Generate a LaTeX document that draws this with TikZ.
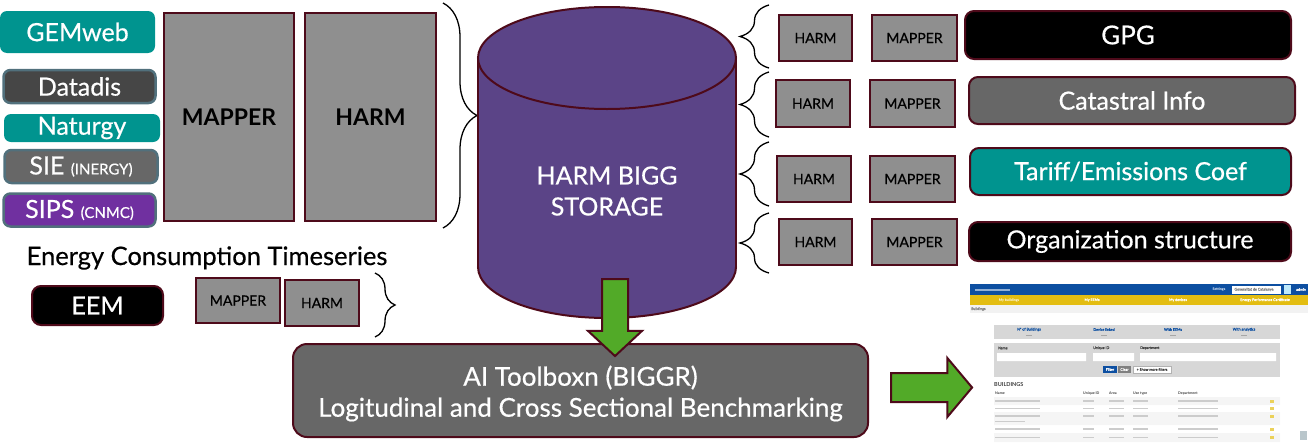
\documentclass[tikz,border=0pt]{standalone}
\usepackage{fontspec}
\setmainfont{Lato}[UprightFeatures={FakeBold=0.5}]
\usepackage{tikz}
\usetikzlibrary{decorations.pathreplacing,shapes.arrows}

\definecolor{gemteal}{HTML}{00948F}
\definecolor{darkbox}{HTML}{464646}
\definecolor{midbox}{HTML}{676767}
\definecolor{sipspurple}{HTML}{7030A0}
\definecolor{slateedge}{HTML}{51707C}
\definecolor{edgered}{HTML}{4E0A1A}
\definecolor{mapgray}{HTML}{8F8F8F}
\definecolor{biggpurple}{HTML}{5B4487}
\definecolor{arrowgreen}{HTML}{52AA28}
\definecolor{webblue}{HTML}{0D4FA1}
\definecolor{webyellow}{HTML}{E3BD12}
\definecolor{panelgray}{HTML}{D7D7D7}

\newcommand{\fsz}[1]{\fontsize{#1}{#1}\selectfont}

\tikzset{
  srcbox/.style={rounded corners=7pt, text=white, inner sep=0pt, font=\fsz{25}},
  slatebox/.style={srcbox, draw=slateedge, line width=2.5pt},
  mapbox/.style={draw=edgered, fill=mapgray, line width=2pt, inner sep=0pt},
  infobox/.style={srcbox, draw=edgered, line width=2pt, rounded corners=9pt},
  garrow/.style={single arrow, draw=edgered, fill=arrowgreen, line width=2pt, inner sep=0pt},
  brc/.style={decorate, decoration={brace, amplitude=#1}, line width=1.3pt},
  tiny/.style={inner sep=0pt, font=\fsz{3.6}},
}

\begin{document}
\begin{tikzpicture}[x=1pt, y=-1pt] % 1pt = 1px, y軸は下向き
    \useasboundingbox (0,0) rectangle (1308,442); % 画像の大きさ

    % 左側のデータソース
    \node (gem) [srcbox, fill=gemteal, minimum width=155, minimum height=42] at (77.5,32) {GEMweb};
    \node (datadis) [slatebox, fill=darkbox, minimum width=152, minimum height=33] at (79.5,86.5) {Datadis};
    \node (naturgy) [srcbox, fill=gemteal, minimum width=156, minimum height=28] at (82,128) {Naturgy};
    \node (sie) [slatebox, fill=midbox, minimum width=153, minimum height=33] at (81,166.5) {SIE {\fsz{15}(INERGY)}};
    \node (sips) [slatebox, fill=sipspurple, minimum width=152, minimum height=33] at (79.5,210) {SIPS {\fsz{15}(CNMC)}};

    \node (bigmap) [mapbox, minimum width=130, minimum height=208, font=\fsz{23}\bfseries] at (229,117) {MAPPER};
    \node (bigharm) [mapbox, minimum width=131, minimum height=208, font=\fsz{23}\bfseries] at (370.5,117) {HARM};
    \coordinate (lbtop) at (443,3);
    \coordinate (lbbot) at (443,228);
    \draw [brc=34] (lbtop) -- (lbbot); % 左の大きな括弧

    % 時系列
    \node (ects) [inner sep=0pt, font=\fsz{25.5}] at (207,258) {Energy Consumption Timeseries};
    \node (eem) [infobox, fill=black, font=\fsz{25}, minimum width=131, minimum height=39] at (97.5,305.5) {EEM};
    \node (smap) [mapbox, font=\fsz{14}, minimum width=84, minimum height=45] at (238,300.5) {MAPPER};
    \node (sharm) [mapbox, font=\fsz{14}, minimum width=74, minimum height=46] at (322,303) {HARM};
    \coordinate (sbtop) at (375,273);
    \coordinate (sbbot) at (375,337);
    \draw [brc=20] (sbtop) -- (sbbot);

    % HARM BIGG STORAGE (円柱)
    \filldraw [fill=biggpurple, draw=edgered, line width=2pt] (607,267) ellipse [x radius=129, y radius=51];
    \fill [biggpurple] (478,58) rectangle (736,267);
    \draw [edgered, line width=2pt] (478,58) -- (478,267) (736,58) -- (736,267);
    \filldraw [fill=biggpurple, draw=edgered, line width=2pt] (607,58) ellipse [x radius=129, y radius=51];
    \node (store) [text=white, align=center, font=\fontsize{25}{31}\selectfont] at (607,191) {HARM BIGG\\STORAGE};

    % 右側の情報源
    \node (harma) [mapbox, font=\fsz{14}, minimum width=73, minimum height=46] at (815.5,38) {HARM};
    \node (mapa) [mapbox, font=\fsz{14}, minimum width=85, minimum height=46] at (914.5,38) {MAPPER};
    \node (gpg) [infobox, fill=black, font=\fsz{26}, minimum width=326, minimum height=48] at (1128,35) {GPG};
    \node (harmb) [mapbox, font=\fsz{14}, minimum width=74, minimum height=47] at (813,103.5) {HARM};
    \node (mapb) [mapbox, font=\fsz{14}, minimum width=85, minimum height=47] at (912.5,103.5) {MAPPER};
    \node (cat) [infobox, fill=midbox, minimum width=326, minimum height=47] at (1132,100.5) {Catastral Info};
    \node (harmc) [mapbox, font=\fsz{14}, minimum width=74, minimum height=46] at (814,179) {HARM};
    \node (mapc) [mapbox, font=\fsz{14}, minimum width=85, minimum height=46] at (912.5,179) {MAPPER};
    \node (tariff) [infobox, fill=gemteal, minimum width=321, minimum height=47] at (1130.5,171.5) {Tariff/Emissions Coef};
    \node (harmd) [mapbox, font=\fsz{14}, minimum width=73, minimum height=46] at (815.5,242) {HARM};
    \node (mapd) [mapbox, font=\fsz{14}, minimum width=85, minimum height=46] at (914.5,242) {MAPPER};
    \node (org) [infobox, fill=black, minimum width=322, minimum height=39] at (1130,241.5) {Organization structure};
    \foreach \ya/\yb in {68/5, 137/72, 206/142, 273/213} % 右の括弧
        \draw [brc=29] (769,\ya) -- (769,\yb);

    % AI Toolbox
    \node (ai) [infobox, fill=midbox, rounded corners=14pt, align=center, font=\fontsize{26}{31}\selectfont,
        minimum width=575, minimum height=93] at (580.5,390.5) {};
    \node (ailab) [text=white, inner sep=0pt, align=center, font=\fontsize{26}{31}\selectfont] at (580.5,393.5)
        {AI Toolboxn (BIGGR)\\Logitudinal and Cross Sectional Benchmarking};
    \node (down) [garrow, minimum width=52, minimum height=77, single arrow head extend=14, single arrow tip angle=94,
        rotate=-90, inner ysep=12] at (615,311.5) {};
    \node (right) [garrow, minimum width=57, minimum height=81, single arrow head extend=15, single arrow tip angle=100,
        inner ysep=13.5] at (925.5,387.5) {};

    % スクリーンショット
    \fill [webblue] (970,284) rectangle (1308,295);
    \fill [white!55!webblue] (975,288.6) rectangle (1010,290.6);
    \node (settings) [tiny, text=white, font=\fsz{3.6}\bfseries] at (1219,289.5) {Settings};
    \fill [white] (1232,285.5) rectangle (1281,293.5);
    \node (gencat) [tiny, text=gray] at (1254,289.5) {Generalitat de Catalunya};
    \fill [cyan!25] (1284,285) rectangle (1291,294);
    \node (admin) [tiny, text=white] at (1301,289.5) {admin};
    \fill [webyellow] (970,295) rectangle (1308,305);
    \node (mybld) [tiny, text=white, font=\fsz{3.6}\bfseries] at (1009,300) {My buildings};
    \node (myeem) [tiny, text=white] at (1092,300) {My EEMs};
    \node (mydev) [tiny, text=white] at (1178,300) {My devices};
    \node (epc) [tiny, text=white] at (1265,300) {Energy Performance Certificate};
    \fill [gray!10] (970,305) rectangle (1308,313);
    \node (crumb) [tiny, text=gray, anchor=west] at (971,309) {Buildings};

    \fill [panelgray] (994,325) rectangle (1280,339);
    \foreach \xx/\lab in {1029/N\textordmasculine{} of Buildings, 1104/Device linked, 1173/With EEMs, 1244/With analytics} {
        \node (stat\xx) [tiny, text=webblue] at (\xx,329.5) {\lab};
        \fill [gray!70] (\xx-3,334.6) rectangle (\xx+3,336);
    }
    \fill [panelgray] (994,343) rectangle (1280,377);
    \node (fname) [tiny, anchor=west, text=darkgray] at (998,348) {Name};
    \node (fuid) [tiny, anchor=west, text=darkgray] at (1093,348) {Unique ID};
    \node (fdep) [tiny, anchor=west, text=darkgray] at (1140,348) {Department};
    \fill [white] (997,353) rectangle (1086,361) (1093,353) rectangle (1134,361) (1140,353) rectangle (1276,361);
    \fill [webblue] (1103,366) rectangle (1117,373);
    \node (bfilter) [tiny, text=white] at (1110,369.5) {Filter};
    \fill [gray] (1118,366) rectangle (1131,373);
    \node (bclear) [tiny, text=white] at (1124.5,369.5) {Clear};
    \filldraw [fill=white, draw=gray!60, line width=0.3pt] (1133,366) rectangle (1171,373);
    \node (bmore) [tiny, text=darkgray] at (1152,369.5) {+ Show more filters};

    \node (bldhead) [inner sep=0pt, anchor=west, text=darkgray, font=\fsz{5.5}\bfseries] at (994,385) {BUILDINGS};
    \fill [gray!8] (994,397) rectangle (1280,405) (994,412) rectangle (1280,425) (994,433) rectangle (1280,442);
    \foreach \xx/\lab in {995/Name, 1083/Unique ID, 1109/Area, 1133/Use type, 1178/Department}
        \node (col\xx) [tiny, anchor=west, text=darkgray, font=\fsz{3.6}\bfseries] at (\xx,393) {\lab};
    \foreach \yy in {401, 408.5, 416, 429, 437.5} { % 表の行 (読めない文字)
        \fill [gray!40] (995,\yy-0.8) rectangle (1040,\yy+0.8);
        \fill [gray!40] (1083,\yy-0.8) rectangle (1094,\yy+0.8);
        \fill [gray!40] (1109,\yy-0.8) rectangle (1124,\yy+0.8);
        \fill [gray!40] (1133,\yy-0.8) rectangle (1148,\yy+0.8);
        \fill [gray!40] (1178,\yy-0.8) rectangle (1218,\yy+0.8);
        \fill [webyellow!70] (1270,\yy-1.5) rectangle (1274,\yy+1.5);
    }
    \fill [gray!40] (995,420.5) rectangle (1025,422); % 2行目の続き
    \fill [slateedge!40] (1300,431) rectangle (1307,440);
\end{tikzpicture}
\end{document}
